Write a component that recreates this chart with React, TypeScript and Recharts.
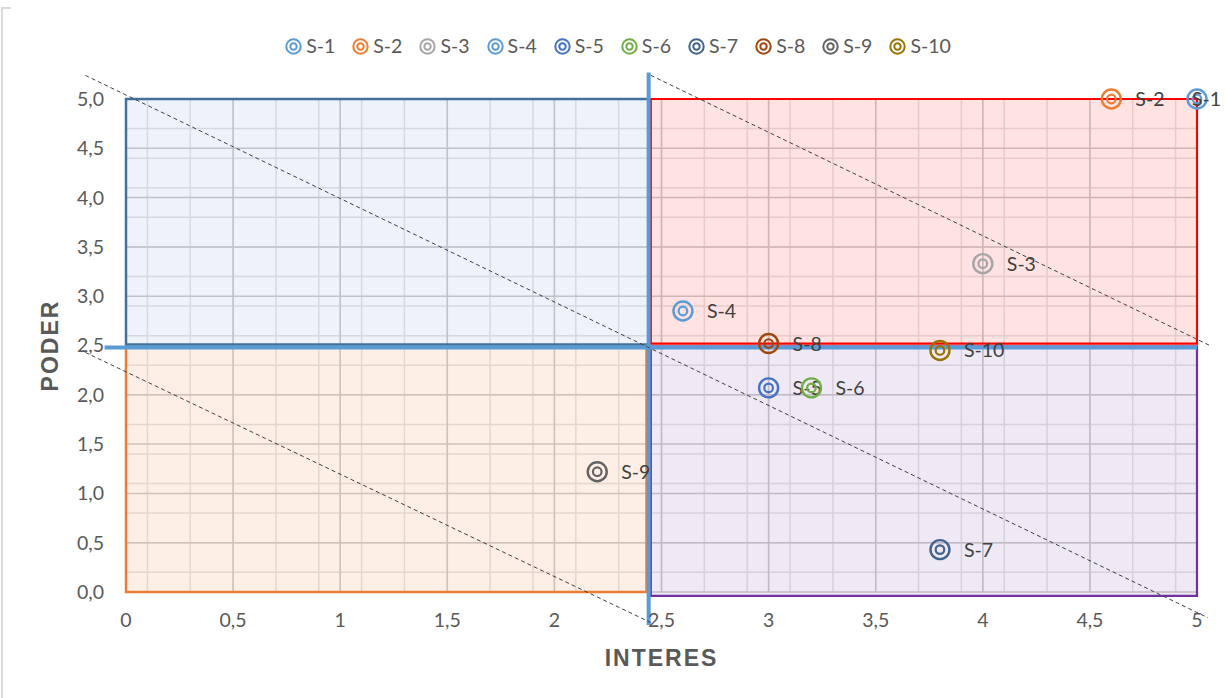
import React from "react";
import {
  ScatterChart,
  Scatter,
  XAxis,
  YAxis,
  CartesianGrid,
  ReferenceArea,
  ReferenceLine,
} from "recharts";

/* ── data ──────────────────────────────────────────────────── */
const SERIES_NAMES = ["S-1", "S-2", "S-3", "S-4", "S-5", "S-6", "S-7", "S-8", "S-9", "S-10"];
const INTERES = [5.0, 4.6, 4.0, 2.6, 3.0, 3.2, 3.8, 3.0, 2.2, 3.8];
const PODER = [5.0, 5.0, 3.33, 2.85, 2.07, 2.07, 0.43, 2.52, 1.22, 2.45];
const SERIES_COLORS = [
  "#5b9bd5",
  "#ed7d31",
  "#a5a5a5",
  "#5b9bd5",
  "#4472c4",
  "#70ad47",
  "#41648f",
  "#9e480e",
  "#636363",
  "#997300",
];

const X_TICKS = [0, 0.5, 1, 1.5, 2, 2.5, 3, 3.5, 4, 4.5, 5];
const Y_TICKS = [0, 0.5, 1, 1.5, 2, 2.5, 3, 3.5, 4, 4.5, 5];

// minor grid every 0.1
const MINOR_VALUES = Array.from({ length: 51 }, (_, i) => i / 10);

const W = 1225;
const H = 698;
const FONT = "Lato, 'Liberation Sans', sans-serif";
const TITLE_FONT = "'Liberation Sans', Arial, sans-serif";
const TEXT = "#595959";

const fmtX = (v: number) => String(v).replace(".", ",");
const fmtY = (v: number) => v.toFixed(1).replace(".", ",");

/* ── double ring marker with its name on the right ─────────── */
function ringShape(color: string) {
  return (props: any) => {
    const { cx, cy, payload } = props;
    if (cx == null || cy == null) return null;
    // keep the label inside the chart, like Excel does at the edge
    const lx = Math.min(cx + 24, W - 33);
    return (
      <g>
        <circle cx={cx} cy={cy} r={9.5} fill="none" stroke={color} strokeWidth={2.4} />
        <circle cx={cx} cy={cy} r={4.3} fill="none" stroke={color} strokeWidth={2.2} />
        <text
          x={lx}
          y={cy}
          dy="0.36em"
          fontSize={19.5}
          fontFamily={FONT}
          fill="#404040"
        >
          {payload.name}
        </text>
      </g>
    );
  };
}

function LegendIcon({ color }: { color: string }) {
  return (
    <svg width={19} height={19} style={{ display: "block" }}>
      <circle cx={9.5} cy={9.5} r={7.2} fill="none" stroke={color} strokeWidth={2} />
      <circle cx={9.5} cy={9.5} r={3.2} fill="none" stroke={color} strokeWidth={2} />
    </svg>
  );
}

export default function App() {
  return (
    <div
      style={{
        position: "absolute",
        left: 0,
        top: 0,
        width: W,
        height: H,
        background: "#fff",
        fontFamily: FONT,
        overflow: "hidden",
      }}
    >
      {/* chart area border (only the left / top-left corner shows) */}
      <div
        style={{
          position: "absolute",
          left: 1,
          top: 7,
          width: 8,
          height: 700,
          borderLeft: "2px solid #d9d9d9",
          borderTop: "2px solid #d9d9d9",
        }}
      />

      {/* ── legend ─────────────────────────────────────────── */}
      <div
        style={{
          position: "absolute",
          top: 34,
          left: 5,
          width: W,
          display: "flex",
          justifyContent: "center",
          gap: 16,
          fontSize: 19.5,
          color: TEXT,
          lineHeight: "24px",
        }}
      >
        {SERIES_NAMES.map((n, i) => (
          <div key={n} style={{ display: "flex", alignItems: "center", gap: 3 }}>
            <LegendIcon color={SERIES_COLORS[i]} />
            <span>{n}</span>
          </div>
        ))}
      </div>

      <ScatterChart
        width={W}
        height={H}
        margin={{ top: 99, right: 28, bottom: 0, left: 0 }}
      >
        <CartesianGrid
          stroke="#e4e4e4"
          strokeWidth={1.5}
          horizontalValues={MINOR_VALUES}
          verticalValues={MINOR_VALUES}
        />
        <CartesianGrid
          stroke="#cccccc"
          strokeWidth={1.5}
          horizontalValues={Y_TICKS}
          verticalValues={X_TICKS}
        />
        <XAxis
          type="number"
          dataKey="x"
          domain={[0, 5]}
          ticks={X_TICKS}
          tickFormatter={fmtX}
          axisLine={false}
          tickLine={false}
          tickSize={0}
          tickMargin={21}
          height={106}
          tick={{ fill: TEXT, fontSize: 19.5, fontFamily: FONT }}
          label={{
            value: "INTERES",
            position: "insideBottom",
            offset: 32,
            style: {
              fill: TEXT,
              fontSize: 23,
              fontWeight: 700,
              letterSpacing: 2,
              fontFamily: TITLE_FONT,
            },
          }}
        />
        <YAxis
          type="number"
          dataKey="y"
          domain={[0, 5]}
          ticks={Y_TICKS}
          tickFormatter={fmtY}
          axisLine={false}
          tickLine={false}
          tickSize={0}
          tickMargin={22}
          width={126}
          tick={{ fill: TEXT, fontSize: 19.5, fontFamily: FONT }}
          label={{
            value: "PODER",
            angle: -90,
            position: "insideLeft",
            offset: 50,
            style: {
              fill: TEXT,
              fontSize: 23,
              fontWeight: 700,
              letterSpacing: 2,
              textAnchor: "middle",
              fontFamily: TITLE_FONT,
            },
          }}
        />

        {/* ── quadrants ─────────────────────────────────────── */}
        <ReferenceArea
          x1={0}
          x2={2.44}
          y1={2.51}
          y2={5}
          fill="#4472c4"
          fillOpacity={0.09}
          stroke="#41719c"
          strokeWidth={2.5}
          ifOverflow="visible"
        />
        <ReferenceArea
          x1={2.45}
          x2={5}
          y1={2.52}
          y2={5}
          fill="#ff0000"
          fillOpacity={0.11}
          stroke="#ff0000"
          strokeWidth={2.2}
          ifOverflow="visible"
        />
        <ReferenceArea
          x1={0}
          x2={2.43}
          y1={0}
          y2={2.48}
          fill="#ed7d31"
          fillOpacity={0.12}
          stroke="#ed7d31"
          strokeWidth={2.5}
          ifOverflow="visible"
        />
        <ReferenceArea
          x1={2.45}
          x2={5}
          y1={-0.04}
          y2={2.49}
          fill="#7030a0"
          fillOpacity={0.11}
          stroke="#7030a0"
          strokeWidth={2.2}
          ifOverflow="visible"
        />

        {/* ── axis cross in blue ────────────────────────────── */}
        <ReferenceLine
          segment={[
            { x: 2.44, y: 5.27 },
            { x: 2.44, y: -0.335 },
          ]}
          stroke="#5b9bd5"
          strokeWidth={4}
          ifOverflow="visible"
        />
        <ReferenceLine
          segment={[
            { x: -0.1, y: 2.48 },
            { x: 5.0, y: 2.48 },
          ]}
          stroke="#5b9bd5"
          strokeWidth={4}
          ifOverflow="visible"
        />

        {/* ── dashed diagonals ──────────────────────────────── */}
        <ReferenceLine
          segment={[
            { x: -0.19, y: 5.24 },
            { x: 5.05, y: -0.26 },
          ]}
          stroke="#404040"
          strokeWidth={1}
          strokeDasharray="4 3"
          ifOverflow="visible"
        />
        <ReferenceLine
          segment={[
            { x: 2.45, y: 5.24 },
            { x: 5.06, y: 2.5 },
          ]}
          stroke="#404040"
          strokeWidth={1}
          strokeDasharray="4 3"
          ifOverflow="visible"
        />
        <ReferenceLine
          segment={[
            { x: -0.19, y: 2.43 },
            { x: 2.45, y: -0.31 },
          ]}
          stroke="#404040"
          strokeWidth={1}
          strokeDasharray="4 3"
          ifOverflow="visible"
        />

        {/* ── stakeholders ──────────────────────────────────── */}
        {SERIES_NAMES.map((n, i) => (
          <Scatter
            key={n}
            name={n}
            data={[{ x: INTERES[i], y: PODER[i], name: n }]}
            fill={SERIES_COLORS[i]}
            shape={ringShape(SERIES_COLORS[i])}
            isAnimationActive={false}
          />
        ))}
      </ScatterChart>
    </div>
  );
}
